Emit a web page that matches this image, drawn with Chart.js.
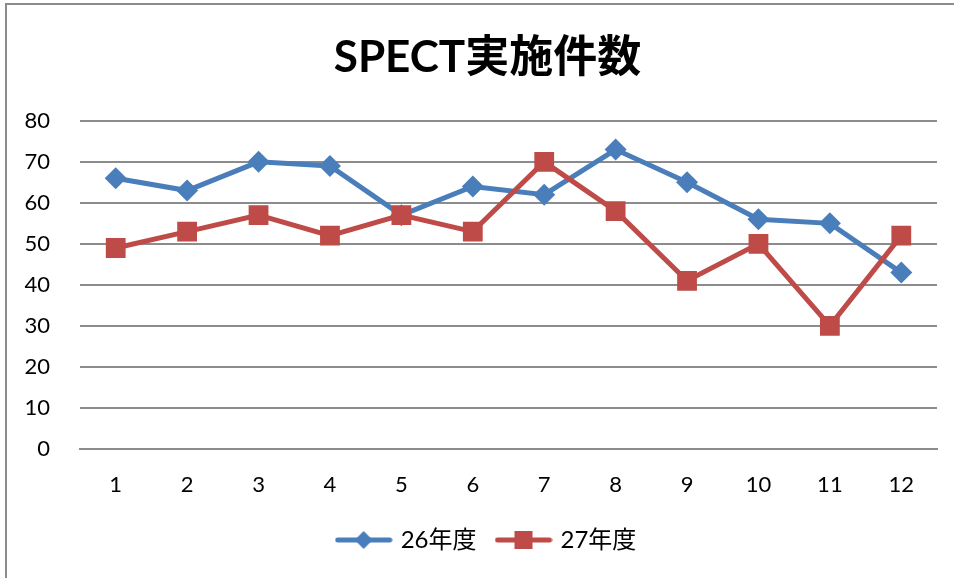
<!DOCTYPE html>
<html>
<head>
<meta charset="utf-8">
<script src="https://cdn.jsdelivr.net/npm/chart.js@4.4.0/dist/chart.umd.min.js"></script>
<style>
  body { margin: 0; background: #fff; }
  #wrap { position: relative; width: 954px; height: 578px; overflow: hidden; }
  #frame { position: absolute; left: 5px; top: 3px; width: 970px; height: 600px; border: 2px solid #8c8c8c; }
  canvas { position: absolute; left: 0; top: 0; }
</style>
</head>
<body>
<div id="wrap">
  <div id="frame"></div>
  <canvas id="chart" width="954" height="578"></canvas>
</div>
<script>
// data
var months = ['1', '2', '3', '4', '5', '6', '7', '8', '9', '10', '11', '12'];
var seriesNames = ['26年度', '27年度'];
var values26 = [66, 63, 70, 69, 57, 64, 62, 73, 65, 56, 55, 43];
var values27 = [49, 53, 57, 52, 57, 53, 70, 58, 41, 50, 30, 52];

var BLUE = '#4a7ebb';
var RED = '#be4b48';
var FONT = 'Lato, "Noto Sans CJK JP", sans-serif';

// legend icon: a short line with the marker in the middle
function legendIcon(color, shape) {
    var c = document.createElement('canvas');
    c.width = 58;
    c.height = 22;
    var ctx = c.getContext('2d');
    ctx.strokeStyle = color;
    ctx.fillStyle = color;
    ctx.lineWidth = 5;
    ctx.lineCap = 'round';
    ctx.beginPath();
    ctx.moveTo(3, 11);
    ctx.lineTo(55, 11);
    ctx.stroke();
    ctx.beginPath();
    if (shape === 'diamond') {
        ctx.moveTo(29, 2);
        ctx.lineTo(38, 11);
        ctx.lineTo(29, 20);
        ctx.lineTo(20, 11);
    } else {
        ctx.rect(20, 2, 18, 18);
    }
    ctx.fill();
    return c;
}

var icons = [legendIcon(BLUE, 'diamond'), legendIcon(RED, 'square')];

// y labels sit partly in the left padding, so widen the label clip box
var widenYLabels = {
    id: 'widenYLabels',
    afterLayout: function (chart) {
        chart.scales.y.left = 0;
    }
};

new Chart(document.getElementById('chart'), {
    type: 'line',
    data: {
        labels: months,
        datasets: [
            {
                label: seriesNames[0],
                data: values26,
                borderColor: BLUE,
                backgroundColor: BLUE,
                borderWidth: 5,
                pointStyle: 'rectRot',
                pointRadius: 11,
                pointHoverRadius: 11,
                pointBorderWidth: 0,
                order: 1
            },
            {
                label: seriesNames[1],
                data: values27,
                borderColor: RED,
                backgroundColor: RED,
                borderWidth: 5,
                pointStyle: 'rect',
                pointRadius: 14,
                pointHoverRadius: 14,
                pointBorderWidth: 0,
                order: 0
            }
        ]
    },
    plugins: [widenYLabels],
    options: {
        responsive: false,
        animation: false,
        layout: { padding: { left: 38, right: 17, top: 0, bottom: 16 } },
        plugins: {
            title: {
                display: true,
                text: 'SPECT実施件数',
                color: '#000',
                font: { family: FONT, size: 44, weight: 'bold' },
                padding: { top: 31, bottom: 37 }
            },
            legend: {
                position: 'bottom',
                labels: {
                    color: '#000',
                    font: { family: FONT, size: 24 },
                    usePointStyle: true,
                    pointStyleWidth: 50,
                    padding: 22,
                    generateLabels: function (chart) {
                        return chart.data.datasets.map(function (ds, i) {
                            return {
                                text: ds.label,
                                pointStyle: icons[i],
                                fontColor: '#000',
                                datasetIndex: i,
                                hidden: false
                            };
                        });
                    }
                }
            },
            tooltip: { enabled: false }
        },
        scales: {
            x: {
                offset: true,
                afterFit: function (scale) { scale.height = 57; },
                grid: { display: false, drawTicks: false },
                border: { color: '#8c8c8c', width: 2 },
                ticks: { color: '#000', font: { family: FONT, size: 22 }, padding: 23, maxRotation: 0 }
            },
            y: {
                min: 0,
                max: 80,
                afterFit: function (scale) { scale.width = 42; },
                grid: { color: '#8c8c8c', lineWidth: 2, drawTicks: false },
                border: { display: false },
                ticks: { stepSize: 10, color: '#000', font: { family: FONT, size: 22 }, padding: 30 }
            }
        }
    }
});
</script>
</body>
</html>
